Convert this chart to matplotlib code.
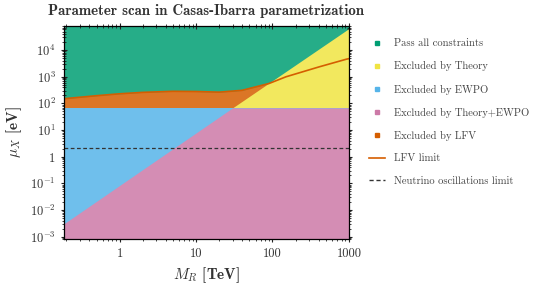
import numpy as np
import matplotlib
matplotlib.use("Agg")
import matplotlib.pyplot as plt
from matplotlib.colors import to_rgb
from matplotlib.lines import Line2D

plt.rcParams['font.family'] = ['cmr10', 'DejaVu Serif']
plt.rcParams['mathtext.fontset'] = 'cm'
plt.rcParams['axes.formatter.use_mathtext'] = True

# Axis ranges of the scan
M_range = [0.186, 1000.0]      # TeV
mu_range = [8e-4, 8e4]         # eV

# Theory (perturbativity) boundary: excluded below this line
theory_M = [0.186, 30.0, 1000.0]
theory_mu = [3e-3, 68.0, 6.5e4]

# EWPO boundary: excluded below this value
ewpo_mu = 68.0

# LFV limit curve: excluded below
lfv_M = [0.186, 0.5, 1, 2, 5, 10, 20, 40, 90, 150, 405, 930, 1000]
lfv_mu = [150, 195, 230, 260, 285, 280, 265, 310, 560, 1000, 2350, 4600, 4800]

# Neutrino oscillation limit
nu_mu = 2.2

labels = ['Pass all constraints', 'Excluded by Theory', 'Excluded by EWPO',
          'Excluded by Theory+EWPO', 'Excluded by LFV']
colors = ['#009E73', '#F0E442', '#56B4E9', '#CC79A7', '#D55E00']


def speckled(c, f=0.85):
    # dense scatter with white gaps looks lighter on average
    r = np.array(to_rgb(c))
    return tuple(r * f + (1 - f))


fig = plt.figure(figsize=(5.36, 2.84), dpi=100)
ax = fig.add_axes([0.119, 0.158, 0.532, 0.750])
ax.set_xscale('log')
ax.set_yscale('log')

c_pass, c_th, c_ew, c_both, c_lfv = [speckled(c) for c in colors]

# layered regions
ax.fill_between(M_range, mu_range[0], mu_range[1], color=c_pass, lw=0, zorder=1)
ax.fill_between(lfv_M, ewpo_mu, lfv_mu, color=c_lfv, lw=0, zorder=2)
ax.fill_between(theory_M, ewpo_mu, theory_mu, color=c_th, lw=0, zorder=3)
ax.fill_between(M_range, mu_range[0], ewpo_mu, color=c_ew, lw=0, zorder=4)
ax.fill_between(theory_M, mu_range[0], np.minimum(theory_mu, ewpo_mu),
                color=c_both, lw=0, zorder=5)

ax.plot(lfv_M, lfv_mu, color='#D55E00', lw=1.2, zorder=6)
ax.axhline(nu_mu, color='#333333', ls='--', lw=0.9, dashes=(3, 2), zorder=6)

ax.set_xlim(M_range)
ax.set_ylim(mu_range)
ax.set_xticks([1, 10, 100, 1000])
ax.set_xticklabels(['1', '10', '100', '1000'])
ax.set_yticks([1e-3, 1e-2, 1e-1, 1, 1e1, 1e2, 1e3, 1e4])
ax.set_yticklabels([r'$10^{-3}$', r'$10^{-2}$', r'$10^{-1}$', r'$1$',
                    r'$10^{1}$', r'$10^{2}$', r'$10^{3}$', r'$10^{4}$'])
ax.tick_params(which='both', direction='inout', top=True, right=True,
               labelsize=9, colors='#222222', labelcolor='#333333')
ax.tick_params(which='major', length=5, width=0.8)
ax.tick_params(which='minor', length=3, width=0.6)
for s in ax.spines.values():
    s.set_linewidth(0.9)
    s.set_zorder(10)

ax.set_xlabel(r'$\boldsymbol{M_R}$ [TeV]', fontsize=11, family='cmb10', color='#333333')
ax.set_ylabel(r'$\boldsymbol{\mu_X}$ [eV]', fontsize=11, family='cmb10', color='#333333')
ax.set_title('Parameter scan in Casas-Ibarra parametrization', fontsize=10.7,
             family='cmb10', color='#333333', pad=8)

handles = [Line2D([], [], marker='s', ls='', markersize=3, color=c) for c in colors]
handles.append(Line2D([], [], color='#D55E00', lw=1.2))
handles.append(Line2D([], [], color='#333333', lw=1.0, ls='--', dashes=(3, 2)))
leg = ax.legend(handles, labels + ['LFV limit', 'Neutrino oscillations limit'],
                loc='upper left', bbox_to_anchor=(1.045, 0.975), frameon=False,
                fontsize=7.6, labelspacing=1.24, handlelength=1.5,
                handletextpad=0.9, labelcolor='#444444', borderaxespad=0.3)

fig.savefig('out.png', dpi=100)
